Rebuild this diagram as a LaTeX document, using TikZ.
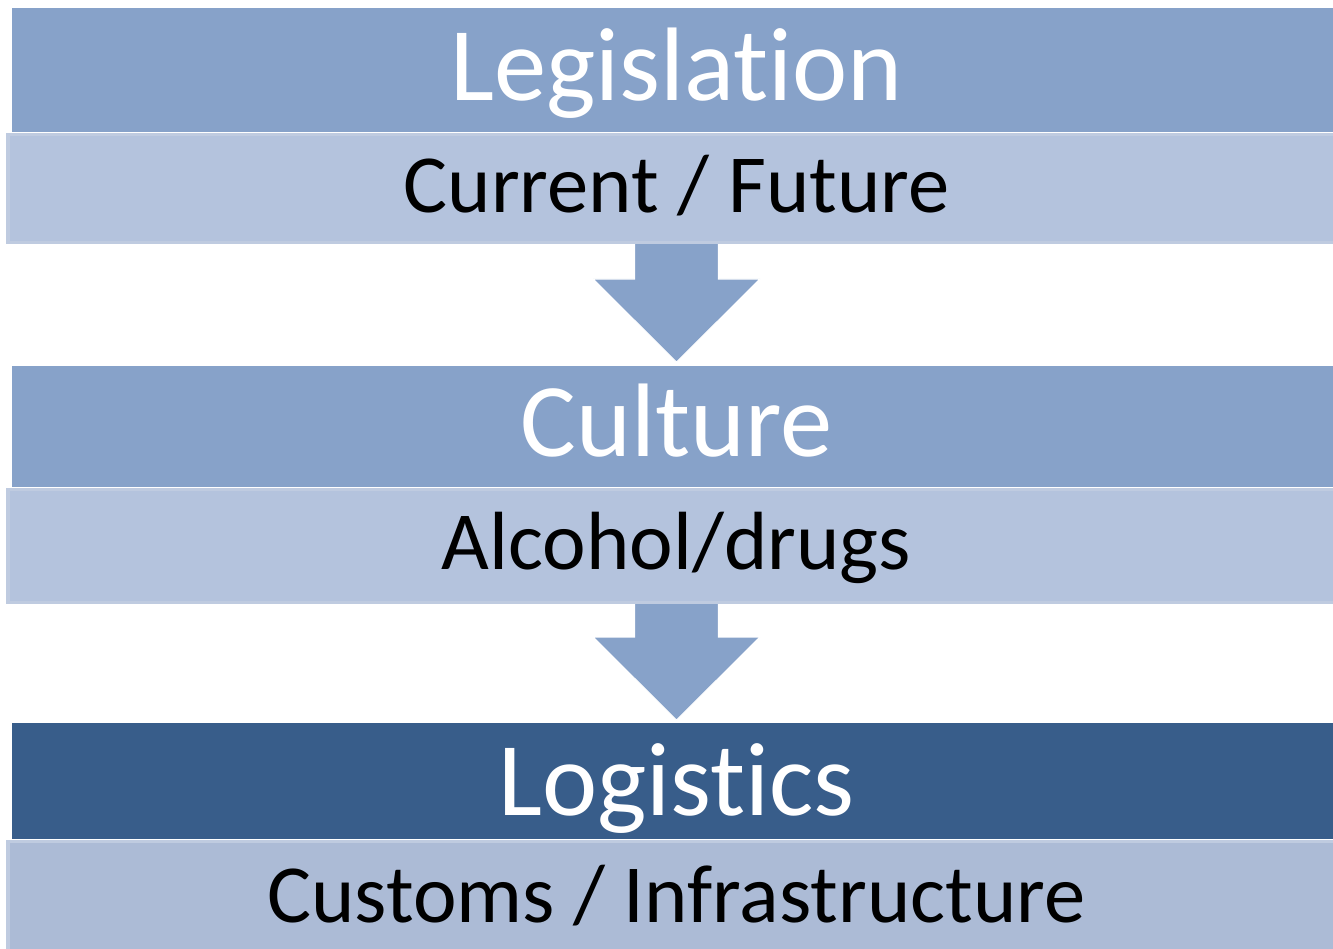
\documentclass[tikz,border=0pt]{standalone}
\usepackage{fontspec}
\setmainfont{Carlito}[Ligatures = NoCommon]
\usepackage{xcolor}
\usetikzlibrary{positioning,calc}
\definecolor{headblue}{HTML}{87A2C9}
\definecolor{subblue}{HTML}{B4C3DD}
\definecolor{subedge}{HTML}{BFCBE0}
\definecolor{darkblue}{HTML}{385D8A}
\definecolor{darksub}{HTML}{ACBBD6}

\begin{document}
\begin{tikzpicture}[x = 0.02cm, y = -0.02cm,
  headbox/.style = {fill = headblue, text = white, inner sep = 0pt, minimum width = 26.58cm,
    font = \fontsize{59.5}{70}\selectfont, text height = 1.84cm, text depth = 0.64cm},
  subbox/.style = {fill = subblue, draw = subedge, line width = 2pt, inner sep = 0pt, minimum width = 26.74cm,
    font = \fontsize{47}{56}\selectfont, text height = 1.56cm, text depth = 0.6cm},
  flow/.style = {fill = headblue, draw = white, line width = 0.6pt}]
\useasboundingbox (0,0) rectangle (1333,949);
\clip (0,0) rectangle (1333,949);
\node[headbox, anchor = north] (leg) at (676.5,8) {Legislation};
\node[subbox, below = 0pt of leg] (legsub) {Current / Future};
\node[headbox, anchor = north, text height = 1.8cm, text depth = 0.62cm] (cul) at (676.5,366) {Culture};
\node[subbox, below = 0pt of cul, text height = 1.6cm, text depth = 0.66cm] (culsub) {Alcohol/drugs};
\node[headbox, anchor = north, fill = darkblue, text depth = 0.48cm] (log) at (676.5,723) {Logistics};
\node[subbox, below = 0pt of log, fill = darksub, text height = 1.62cm, text depth = 0.62cm] (logsub) {Customs / Infrastructure};
% block arrows between the stages
\fill[flow] ($(legsub.south)+(-42,0)$) -- ($(cul.north)+(-42,-87)$) -- ($(cul.north)+(-83.5,-87)$)
  -- ($(cul.north)+(0,-4)$) -- ($(cul.north)+(83.5,-87)$) -- ($(cul.north)+(42,-87)$)
  -- ($(legsub.south)+(42,0)$);
\fill[flow] ($(culsub.south)+(-42,0)$) -- ($(log.north)+(-42,-86)$) -- ($(log.north)+(-83.5,-86)$)
  -- ($(log.north)+(0,-3)$) -- ($(log.north)+(83.5,-86)$) -- ($(log.north)+(42,-86)$)
  -- ($(culsub.south)+(42,0)$);
\end{tikzpicture}
\end{document}
